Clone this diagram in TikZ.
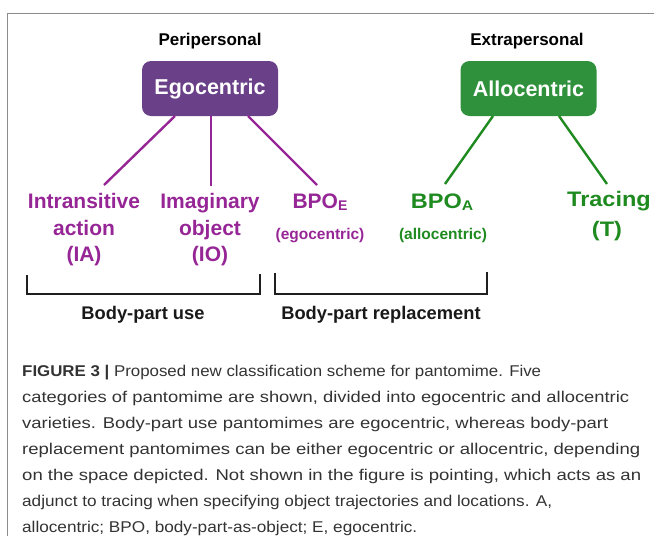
\documentclass[tikz,border=0pt]{standalone}
\usepackage{fontspec}
\usepackage{graphicx}
\setmainfont{Liberation Sans}
\newfontfamily\widefont[FakeStretch=1.12]{Liberation Sans}
\definecolor{egofill}{HTML}{6A4189}
\definecolor{allofill}{HTML}{2F913C}
\definecolor{egoink}{HTML}{962696}
\definecolor{alloink}{HTML}{1F8A1F}
\definecolor{framegray}{HTML}{8C8C8C}
\newcommand{\subE}[1]{\raisebox{-2.4pt}{\fontsize{14}{16}\selectfont #1}}
% caption line set to a given width at its natural height
\newcommand{\capfit}[2]{\resizebox{#1pt}{\height}{#2}}
\begin{document}
\begin{tikzpicture}[x=1pt,y=-1pt,
  heading/.style={anchor=base,inner sep=0pt,font=\fontsize{17}{20}\bfseries\selectfont},
  catbox/.style={rounded corners=9pt,minimum width=136pt,minimum height=55pt,inner sep=0pt,
    text=white,font=\fontsize{21.5}{24}\bfseries\selectfont},
  leaf/.style={anchor=base,inner sep=0pt,font=\fontsize{21}{24}\bfseries\selectfont},
  wideleaf/.style={anchor=base,inner sep=0pt,font=\widefont\fontsize{21}{24}\bfseries\selectfont},
  note/.style={anchor=base,inner sep=0pt,font=\fontsize{15.5}{18}\bfseries\selectfont},
  link/.style={line width=2.4pt},
  bracket/.style={line width=2.4pt,draw=black!88},
  group/.style={anchor=base,inner sep=0pt,font=\fontsize{18.3}{20}\bfseries\selectfont,text=black!90},
  capline/.style={anchor=base west,inner sep=0pt,font=\fontsize{15.6}{18}\selectfont,text=black!80},
]
\useasboundingbox (0,0) rectangle (654,536);

% panel frame: top and left edges only
\draw[framegray,line width=1.6pt] (654,13.5) -- (7.5,13.5) -- (7.5,536);

% spatial headings
\node[heading] (peri)  at (210,45) {Peripersonal};
\node[heading] (extra) at (527,45) {Extrapersonal};

% reference frames
\node[catbox,fill=egofill]  (ego)  at (210,88.5)   {Egocentric};
\node[catbox,fill=allofill] (allo) at (528.5,88.5) {Allocentric};

% pantomime categories
\begin{scope}[text=egoink]
\node[leaf] (ia1) at (84,208)    {Intransitive};
\node[leaf] (ia2) at (84,235)    {action};
\node[leaf] (ia3) at (84,261.5)  {(IA)};
\node[leaf] (io1) at (210,208)   {Imaginary};
\node[leaf] (io2) at (210,235)   {object};
\node[leaf] (io3) at (210,261.5) {(IO)};
\node[leaf] (bpoe) at (320,208)  {BPO\subE{E}};
\node[note] (bpoe2) at (320,239) {(egocentric)};
\end{scope}
\begin{scope}[text=alloink]
\node[wideleaf] (bpoa) at (442,208)  {BPO\subE{A}};
\node[note] (bpoa2) at (443,239)     {(allocentric)};
\node[wideleaf] (tr1) at (609,206)   {Tracing};
\node[wideleaf] (tr2) at (607,236)   {(T)};
\end{scope}

% connector end points
\coordinate (egoL) at (175,116);
\coordinate (egoM) at (211,116);
\coordinate (egoR) at (248,116);
\coordinate (allL) at (493,116);
\coordinate (allR) at (559,116);
\coordinate (iaTop) at (104,185);
\coordinate (ioTop) at (211,186);
\coordinate (beTop) at (317,185);
\coordinate (baTop) at (445,184);
\coordinate (trTop) at (607,184);

\draw[link,egoink] (egoL) -- (iaTop);
\draw[link,egoink] (egoM) -- (ioTop);
\draw[link,egoink] (egoR) -- (beTop);
\draw[link,alloink] (allL) -- (baTop);
\draw[link,alloink] (allR) -- (trTop);

% grouping brackets
\coordinate (useTL) at (27,275);
\coordinate (useBL) at (27,294);
\coordinate (useBR) at (260,294);
\coordinate (useTR) at (260,274);
\coordinate (repTL) at (275,273);
\coordinate (repBL) at (275,294);
\coordinate (repBR) at (487,294);
\coordinate (repTR) at (487,272);
\draw[bracket] (useTL) -- (useBL) -- (useBR) -- (useTR);
\draw[bracket] (repTL) -- (repBL) -- (repBR) -- (repTR);
\node[group] (use) at (143,319) {Body-part use};
\node[group] (rep) at (381,319) {Body-part replacement};

% caption
\node[capline] (c1) at (22,376)   {\capfit{519}{\textbf{FIGURE 3 |} Proposed new classification scheme for pantomime. Five}};
\node[capline] (c2) at (22,402.1) {\capfit{607}{categories of pantomime are shown, divided into egocentric and allocentric}};
\node[capline] (c3) at (22,428.2) {\capfit{586}{varieties. Body-part use pantomimes are egocentric, whereas body-part}};
\node[capline] (c4) at (22,454.3) {\capfit{618}{replacement pantomimes can be either egocentric or allocentric, depending}};
\node[capline] (c5) at (22,480.4) {\capfit{619}{on the space depicted. Not shown in the figure is pointing, which acts as an}};
\node[capline] (c6) at (22,506.5) {\capfit{530}{adjunct to tracing when specifying object trajectories and locations. A,}};
\node[capline] (c7) at (22,532.6) {\capfit{395}{allocentric; BPO, body-part-as-object; E, egocentric.}};
\end{tikzpicture}
\end{document}
